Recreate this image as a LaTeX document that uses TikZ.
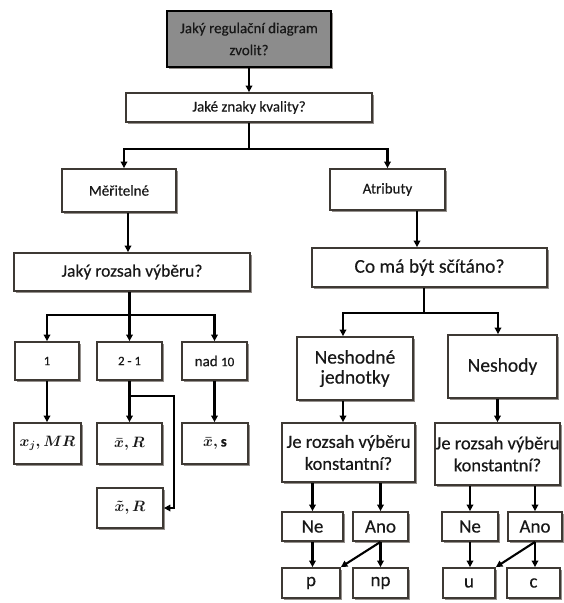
\RequirePackage{fix-cm}
\documentclass[tikz,border=0pt]{standalone}
\usepackage{fontspec}
\setmainfont{Carlito}[FakeBold=0.35]
\usetikzlibrary{arrows.meta,shadows}
\definecolor{edge}{RGB}{62,57,52}
\definecolor{shade}{RGB}{105,98,92}
\definecolor{topfill}{RGB}{140,140,140}
\definecolor{ink}{RGB}{24,24,24}
\newcommand\fs[2]{\fontsize{#1}{#2}\selectfont}
% small figures standing in for old-style numerals
\newcommand\onum[1]{{\fontsize{13}{15}\selectfont #1}}

\begin{document}
\begin{tikzpicture}[x=1pt,y=-1pt,
  box/.style={draw=edge, line width=1.8pt, fill=white, text=ink, align=center,
    inner sep=0pt,
    drop shadow={shadow xshift=1.6pt, shadow yshift=-1.6pt, fill=shade, opacity=0.7}},
  sz/.style n args={2}{minimum width=#1, minimum height=#2},
  arr/.style={draw=black, line width=2.1pt, -{Triangle[length=6.5pt,width=6.5pt]}},
  wire/.style={draw=black, line width=2.1pt}]
\useasboundingbox[fill=white] (0,0) rectangle (563,603);

% question boxes
\node[box, fill=topfill, draw=black, line width=2.8pt, sz={164}{56}, font=\fs{15}{22}]
  (top) at (249,39) {Jaký regulační diagram\\zvolit?};
\node[box, sz={246}{29}, font=\fs{15}{18}] (q1) at (249,107.5) {Jaké znaky kvality?};
\node[box, sz={114}{43}, font=\fs{15}{18}] (mer) at (119,190.5) {Měřitelné};
\node[box, sz={115}{41}, font=\fs{15}{18}] (atr) at (387.5,189.5) {Atributy};

% measurable branch
\node[box, sz={236}{38}, font=\fs{17.5}{21}] (roz) at (132,272) {Jaký rozsah výběru?};
\node[box, sz={64}{38}, font=\fs{15}{18}] (n1) at (47,361) {\onum{1}};
\node[box, sz={65}{38}, font=\fs{15}{18}] (n2) at (129.5,361) {\onum{2 - 1}};
\node[box, sz={65}{38}, font=\fs{15}{18}] (n3) at (214.5,361) {nad \onum{10}};
\node[box, sz={67}{41}, font=\fs{15}{18}\boldmath] (r1) at (47.5,443.5) {$x_j, MR$};
\node[box, sz={65}{41}, font=\fs{15}{18}\boldmath] (r2) at (129.5,443.5) {$\bar{x}, R$};
\node[box, sz={66}{41}, font=\fs{15}{18}\boldmath] (r3) at (215,443.5) {$\bar{x}, \mathrm{s}$};
\node[box, sz={66}{40}, font=\fs{15}{18}\boldmath] (r4) at (130,508) {$\tilde{x}, R$};

% attribute branch
\node[box, sz={235}{39}, font=\fs{19.5}{22}] (co) at (429.5,267.5) {Co má být sčítáno?};
\node[box, sz={116}{63}, font=\fs{19.5}{20}] (nj) at (355,368.5) {Neshodné\\jednotky};
\node[box, sz={109}{63}, font=\fs{19.5}{20}] (ns) at (502.5,366.5) {Neshody};
\node[box, sz={133}{59}, font=\fs{18.5}{22}] (k1) at (348.5,452.5) {Je rozsah výběru\\konstantní?};
\node[box, sz={125}{62}, font=\fs{18.5}{22}] (k2) at (497.5,454) {Je rozsah výběru\\konstantní?};
\node[box, sz={61}{29}, font=\fs{19}{20}] (ne1) at (312.5,526.5) {Ne};
\node[box, sz={55}{29}, font=\fs{19}{20}] (ano1) at (380.5,526.5) {Ano};
\node[box, sz={56}{29}, font=\fs{19}{20}] (ne2) at (470,526.5) {Ne};
\node[box, sz={54}{29}, font=\fs{19}{20}] (ano2) at (535,526.5) {Ano};
\node[box, sz={58}{30}, font=\fs{19}{20}] (p) at (311,583) {p};
\node[box, sz={55}{30}, font=\fs{19}{20}] (np) at (380.5,583) {np};
\node[box, sz={52}{30}, font=\fs{19}{20}] (u) at (469,583) {u};
\node[box, sz={53}{30}, font=\fs{19}{20}] (c) at (533.5,583) {c};

% connectors: top levels
\draw[arr] (top.south) -- (q1.north);
\draw[wire] (q1.south) -- ++(0,26) coordinate (qj);
\draw[arr] (qj) -| ([xshift=5pt]mer.north);
\draw[arr] (qj) -| (atr.north);

% measurable branch
\draw[arr] ([xshift=9pt]mer.south) -- ([xshift=9pt]mer.south |- roz.north);
\draw[wire] (roz.south -| n2.north) -- ++(0,23) coordinate (rj);
\draw[arr] (rj) -| (n1.north);
\draw[arr] (rj) -- (n2.north);
\draw[arr] (rj) -| (n3.north);
\draw[arr] (n1.south) -- (n1.south |- r1.north);
\draw[arr] (n2.south) -- (n2.south |- r2.north);
\draw[arr] (n3.south) -- (n3.south |- r3.north);
\draw[arr] ([yshift=-15pt]n2.south) -| ([xshift=10pt]r4.east) -- (r4.east);

% attribute branch
\draw[arr] ([xshift=29.5pt]atr.south) -- ([xshift=29.5pt]atr.south |- co.north);
\draw[wire] ([xshift=-5.5pt]co.south) -- ++(0,25) coordinate (cj);
\draw[arr] (cj) -| ([xshift=-12pt]nj.north);
\draw[arr] (cj) -| ([xshift=-4.5pt]ns.north);
\draw[arr] ([xshift=-12pt]nj.south) -- ([xshift=-12pt]nj.south |- k1.north);
\draw[arr] (ns.south -| k2.north) -- (k2.north);
\draw[arr] (k1.south -| ne1.north) -- (ne1.north);
\draw[arr] (k1.south -| ano1.north) -- (ano1.north);
\draw[arr] (k2.south -| ne2.north) -- (ne2.north);
\draw[arr] (k2.south -| ano2.north) -- (ano2.north);
\draw[arr] (ne1.south) -- (ne1.south |- p.north);
\draw[arr] (ano1.south) -- (np.north);
\draw[arr] (ano1.south) -- (p.north east);
\draw[arr] (ne2.south) -- (ne2.south |- u.north);
\draw[arr] (ano2.south) -- (ano2.south |- c.north);
\draw[arr] (ano2.south) -- (u.north east);
\end{tikzpicture}
\end{document}
